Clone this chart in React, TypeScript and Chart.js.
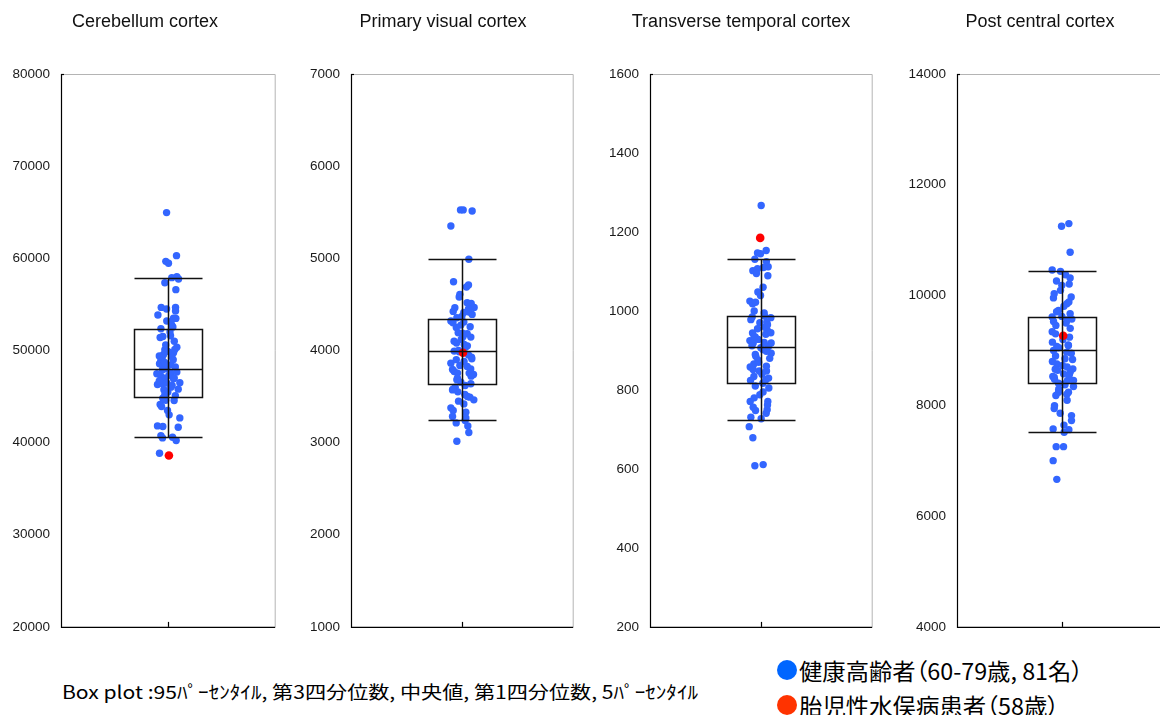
import React, { useEffect, useRef } from "react";
import { Chart, registerables } from "chart.js";

Chart.register(...registerables);

// ---- data -------------------------------------------------------------
const titles = [
  "Cerebellum cortex",
  "Primary visual cortex",
  "Transverse temporal cortex",
  "Post central cortex",
];

const yMin = [20000, 1000, 200, 4000];
const yMax = [80000, 7000, 1600, 14000];
const yStep = [10000, 1000, 200, 2000];

// box plot statistics: 5th pct, Q1, median, Q3, 95th pct
const p5 = [40650, 3250, 725, 7520];
const q1 = [44900, 3641, 818, 8420];
const median = [48000, 3993, 908, 9012];
const q3 = [52300, 4337, 987, 9604];
const p95 = [57900, 4989, 1132, 10431];

// healthy elderly (81) — value and horizontal jitter
const cerebellumValues = [
  64960, 60290, 59670, 59460, 57900, 58000, 57750, 57350, 56600, 54670,
  54490, 54670, 54280, 53840, 53510, 53480, 53080, 52750, 52360, 52540,
  51600, 51520, 51410, 50360, 50110, 49750, 50070, 49570, 49200, 48910,
  48550, 48370, 49350, 48440, 48010, 47570, 47650, 47470, 47210, 46990,
  46920, 46490, 46300, 46380, 46450, 46020, 45800, 45730, 45220, 44820,
  44570, 44130, 43910, 43480, 43010, 42680, 41810, 41740, 41670, 40760,
  40510, 40580, 40220, 38840, 53200, 52000, 51000, 50600, 49900, 49400,
  49000, 48700, 48200, 47900, 47300, 47000, 46700, 46200, 45500, 45100,
  44600,
];
const cerebellumJitter = [
  -0.012, 0.081, -0.019, 0.006, 0.037, 0.084, 0.1, -0.028, 0.075, -0.062,
  -0.012, 0.072, 0.072, -0.093, 0.053, 0.075, 0.028, 0.037, -0.065, 0.047,
  0.025, -0.047, -0.072, 0.084, 0.065, 0.053, -0.028, -0.04, -0.053, -0.065,
  -0.078, -0.047, 0.037, 0.028, -0.012, 0.028, 0.084, -0.103, -0.065, -0.028,
  0.053, 0.112, -0.097, -0.05, -0.009, 0.028, 0.097, -0.037, -0.028, -0.047,
  0.059, -0.072, -0.059, -0.003, 0.012, 0.112, -0.097, -0.047, 0.097, -0.065,
  -0.05, 0.044, 0.078, -0.078, -0.01, 0.02, 0.06, -0.02, 0.0, -0.08,
  0.05, -0.03, 0.07, -0.05, 0.01, 0.06, -0.08, 0.04, 0.0, 0.07,
  -0.02,
];

const visualValues = [
  5525, 5525, 5514, 5351, 4989, 4746, 4688, 4710, 4609, 4580,
  4518, 4511, 4467, 4464, 4424, 4413, 4417, 4391, 4355, 4319,
  4308, 4275, 4257, 4192, 4188, 4181, 4145, 4120, 4080, 4065,
  4036, 3993, 3985, 3928, 3862, 3837, 3826, 3793, 3772, 3754,
  3754, 3739, 3721, 3681, 3656, 3638, 3601, 3572, 3551, 3522,
  3493, 3464, 3420, 3377, 3348, 3330, 3283, 3268, 3214, 3181,
  3109, 3015, 4250, 4150, 4100, 4050, 4000, 3950, 3900, 3880,
  3800, 3700, 3620, 3580, 3500, 4370, 4450, 4300, 3450, 3240,
  3910,
];
const visualJitter = [
  -0.012, 0.012, 0.093, -0.099, 0.063, -0.075, 0.042, 0.06, -0.018, -0.024,
  0.048, 0.084, 0.111, -0.063, -0.078, 0.018, 0.066, 0.093, -0.045, -0.099,
  0.018, -0.009, 0.075, -0.033, 0.006, 0.048, 0.081, -0.006, -0.048, 0.021,
  0.033, -0.069, -0.024, 0.087, -0.099, -0.018, 0.048, -0.084, -0.069, -0.039,
  0.066, 0.105, 0.084, -0.045, -0.009, 0.081, -0.06, -0.084, -0.036, 0.027,
  0.072, 0.108, 0.018, -0.099, -0.078, 0.036, -0.084, 0.036, -0.051, 0.054,
  0.063, -0.045, -0.05, 0.01, -0.07, 0.05, -0.03, 0.06, -0.05, 0.02,
  0.08, -0.04, 0.03, -0.08, 0.05, 0.0, 0.06, -0.08, -0.03, 0.03,
  0.09,
];

const temporalValues = [
  1267, 1153, 1147, 1145, 1131, 1102, 1107, 1112, 1110, 1089,
  1048, 1039, 1025, 1018, 1022, 985, 987, 983, 970, 972,
  959, 951, 944, 941, 934, 928, 925, 919, 919, 910,
  907, 902, 893, 885, 876, 866, 858, 848, 848, 834,
  824, 826, 817, 788, 805, 771, 771, 756, 748, 750,
  741, 731, 727, 707, 679, 608, 611, 1125, 1095, 1060,
  1000, 995, 978, 965, 955, 945, 935, 920, 912, 898,
  890, 880, 870, 860, 852, 840, 830, 810, 795, 780,
  762,
];
const temporalJitter = [
  0.003, 0.048, -0.03, -0.003, -0.054, -0.072, -0.03, 0.066, 0.024, 0.063,
  -0.027, -0.003, -0.099, -0.075, -0.048, -0.078, 0.033, 0.09, -0.009, 0.054,
  0.039, 0.057, -0.075, 0.045, -0.051, -0.024, -0.099, -0.069, 0.093, 0.069,
  0.0, 0.021, 0.093, -0.045, -0.027, -0.063, -0.096, -0.015, 0.051, -0.063,
  -0.093, 0.045, 0.018, -0.009, 0.072, -0.096, 0.063, -0.069, -0.048, 0.057,
  0.048, -0.09, 0.003, -0.105, -0.072, -0.054, 0.021, 0.05, -0.04, 0.02,
  -0.06, 0.03, -0.09, 0.06, -0.03, 0.09, -0.06, 0.03, -0.08, 0.05,
  -0.05, 0.08, -0.02, 0.05, -0.07, 0.01, 0.07, -0.05, 0.02, -0.06,
  0.06,
];

const postcentralValues = [
  11246, 11294, 10775, 10455, 10431, 10370, 10310, 10256, 10177, 9966,
  10087, 10026, 9845, 9875, 9724, 9664, 9604, 9616, 9567, 9525,
  9453, 9495, 9338, 9241, 9072, 9090, 8999, 8969, 8837, 8758,
  8728, 8661, 8667, 8607, 8577, 8517, 8529, 8456, 8456, 8408,
  8396, 8348, 8245, 8184, 8208, 8245, 7949, 7864, 7822, 7731,
  7580, 7520, 7568, 7260, 7260, 7007, 6669, 10200, 9950, 9800,
  9700, 9550, 9400, 9300, 9200, 9150, 9100, 9050, 8950, 8900,
  8850, 8800, 8700, 8640, 8550, 8480, 8380, 8300, 8100, 8000,
  7650,
];
const postcentralJitter = [
  -0.003, 0.067, 0.079, -0.092, -0.013, 0.035, 0.079, -0.051, 0.0, 0.089,
  -0.013, -0.073, 0.048, 0.067, -0.032, 0.079, -0.092, 0.0, 0.095, -0.079,
  -0.057, 0.041, -0.092, 0.073, -0.048, 0.063, -0.079, 0.048, 0.102, -0.048,
  0.006, -0.063, 0.105, 0.079, 0.016, -0.073, -0.086, 0.054, 0.111, -0.032,
  0.022, 0.111, -0.032, -0.057, 0.048, 0.063, -0.073, -0.016, 0.092, 0.092,
  -0.083, 0.022, 0.067, -0.054, 0.016, -0.083, -0.048, 0.07, -0.08, 0.02,
  -0.05, 0.05, 0.08, -0.06, 0.01, -0.09, 0.06, -0.03, 0.09, -0.06,
  0.03, -0.09, 0.05, -0.04, 0.07, -0.07, 0.03, -0.03, 0.05, -0.07,
  0.02,
];

const healthyValues = [cerebellumValues, visualValues, temporalValues, postcentralValues];
const healthyJitter = [cerebellumJitter, visualJitter, temporalJitter, postcentralJitter];

// hydrocephalus patient (58 years)
const patientValues = [38600, 3975, 1185, 9265];
const patientJitter = [0.01, 0.01, -0.006, 0.013];

// ---- layout -----------------------------------------------------------
const PLOT_LEFT = [61, 351, 650, 957];
const PLOT_RIGHT = [275, 573, 872, 1167];
const TITLE_CENTER = [145, 443, 741, 1040];
const PLOT_TOP = 74;
const AXIS_W = 60;
// the value axis reserves ~20px below the plot for its lowest label
const CANVAS_H = 646;
const BOTTOM_PAD = 0;
const RIGHT_PAD = 4;
const BOX_HALF = 34;

const FONT = '"Liberation Sans", Arial, Helvetica, sans-serif';
const CJK = '"Noto Sans CJK JP", "Noto Sans", sans-serif';

const framePlugin = {
  id: "frame",
  beforeDatasetsDraw(chart: any) {
    const { ctx, chartArea: a } = chart;
    ctx.save();
    ctx.lineWidth = 1;
    ctx.strokeStyle = "#b4b4b4";
    ctx.beginPath();
    ctx.moveTo(a.left, a.top + 0.5);
    ctx.lineTo(a.right + 0.5, a.top + 0.5);
    ctx.lineTo(a.right + 0.5, a.bottom);
    ctx.stroke();
    ctx.strokeStyle = "#000";
    ctx.lineWidth = 1.2;
    ctx.beginPath();
    ctx.moveTo(a.left + 0.5, a.top);
    ctx.lineTo(a.left + 0.5, a.bottom + 0.5);
    ctx.lineTo(a.right + 0.5, a.bottom + 0.5);
    ctx.stroke();
    // short inward tick at the top of the value axis
    ctx.beginPath();
    ctx.moveTo(a.left, a.top + 0.5);
    ctx.lineTo(a.left + 3, a.top + 0.5);
    ctx.stroke();
    // category tick on the bottom axis
    const cx = Math.round(chart.scales.x.getPixelForValue(0)) + 0.5;
    ctx.beginPath();
    ctx.moveTo(cx, a.bottom);
    ctx.lineTo(cx, a.bottom - 5);
    ctx.stroke();
    ctx.restore();
  },
};

const boxPlugin = {
  id: "boxplot",
  afterDatasetsDraw(chart: any, _args: any, opts: any) {
    const i = opts.index;
    const { ctx } = chart;
    const y = chart.scales.y;
    const cx = Math.round(chart.scales.x.getPixelForValue(0)) + 0.5;
    const yp = (v: number) => Math.round(y.getPixelForValue(v)) + 0.5;
    const l = cx - BOX_HALF;
    const r = cx + BOX_HALF;
    ctx.save();
    ctx.strokeStyle = "#111";
    ctx.lineWidth = 1.5;
    ctx.beginPath();
    ctx.moveTo(cx, yp(p5[i]));
    ctx.lineTo(cx, yp(p95[i]));
    for (const v of [p5[i], median[i], p95[i]]) {
      ctx.moveTo(l, yp(v));
      ctx.lineTo(r, yp(v));
    }
    ctx.rect(l, yp(q3[i]), r - l, yp(q1[i]) - yp(q3[i]));
    ctx.stroke();
    ctx.restore();
  },
};

const titlePlugin = {
  id: "paneltitle",
  afterDraw(chart: any, _args: any, opts: any) {
    const { ctx } = chart;
    ctx.save();
    ctx.fillStyle = "#111";
    ctx.font = `18px ${FONT}`;
    ctx.textAlign = "center";
    ctx.textBaseline = "alphabetic";
    ctx.fillText(opts.text, opts.x, 26.5);
    ctx.restore();
  },
};

function Panel({ index }: { index: number }) {
  const ref = useRef<HTMLCanvasElement>(null);
  const canvasLeft = PLOT_LEFT[index] - AXIS_W;
  const width = PLOT_RIGHT[index] - PLOT_LEFT[index] + AXIS_W + RIGHT_PAD;

  useEffect(() => {
    if (!ref.current) return;
    const vals = healthyValues[index];
    const jit = healthyJitter[index];
    const chart = new Chart(ref.current, {
      type: "scatter",
      data: {
        datasets: [
          {
            label: "胎児性水俣病患者（58歳）",
            data: [{ x: patientJitter[index], y: patientValues[index] }],
            backgroundColor: "#ff0000",
            borderWidth: 0,
            pointRadius: 4.3,
          },
          {
            label: "健康高齢者（60-79歳, 81名）",
            data: vals.map((v, k) => ({ x: jit[k], y: v })),
            backgroundColor: "#3366ff",
            borderWidth: 0,
            pointRadius: 3.7,
          },
        ],
      },
      options: {
        responsive: false,
        maintainAspectRatio: false,
        animation: false,
        layout: { padding: { top: PLOT_TOP, bottom: BOTTOM_PAD, left: 0, right: RIGHT_PAD } },
        plugins: {
          legend: { display: false },
          tooltip: { enabled: false },
          boxplot: { index },
          paneltitle: { text: titles[index], x: TITLE_CENTER[index] - canvasLeft },
        } as any,
        scales: {
          x: { type: "linear", min: -1, max: 1, display: false },
          y: {
            type: "linear",
            min: yMin[index],
            max: yMax[index],
            grid: { display: false, drawTicks: false },
            border: { display: false },
            afterFit: (s: any) => {
              s.width = AXIS_W;
            },
            ticks: {
              stepSize: yStep[index],
              padding: 11,
              color: "#1a1a1a",
              font: { family: FONT, size: 13.5 },
              callback: (v: any) => String(v),
            },
          },
        },
      },
      plugins: [framePlugin, boxPlugin, titlePlugin],
    });
    return () => chart.destroy();
  }, [index]);

  return (
    <canvas
      ref={ref}
      width={width}
      height={CANVAS_H}
      style={{ position: "absolute", left: canvasLeft, top: 0, width, height: CANVAS_H }}
    />
  );
}

function FitText({ text, width, style }: { text: string; width: number; style: React.CSSProperties }) {
  const ref = useRef<HTMLSpanElement>(null);
  useEffect(() => {
    const el = ref.current;
    if (!el) return;
    el.style.transform = "none";
    const w = el.getBoundingClientRect().width;
    if (w > 0) el.style.transform = `scaleX(${width / w})`;
  }, [text, width]);
  return (
    <span
      ref={ref}
      style={{ position: "absolute", whiteSpace: "nowrap", transformOrigin: "left center", ...style }}
    >
      {text}
    </span>
  );
}

export default function App() {
  return (
    <div
      style={{
        position: "fixed",
        left: 0,
        top: 0,
        width: 1160,
        height: 715,
        overflow: "hidden",
        background: "#fff",
      }}
    >
      {[0, 1, 2, 3].map((i) => (
        <Panel key={i} index={i} />
      ))}
      <FitText
        text="Box plot :95ﾊﾟｰｾﾝﾀｲﾙ, 第3四分位数, 中央値, 第1四分位数, 5ﾊﾟｰｾﾝﾀｲﾙ"
        width={636}
        style={{ left: 62, top: 679, fontFamily: CJK, fontSize: 18, lineHeight: "24px", color: "#000" }}
      />
      <div
        style={{ position: "absolute", left: 777, top: 660, width: 20, height: 20, borderRadius: "50%", background: "#0066ff" }}
      />
      <div
        style={{ position: "absolute", left: 777, top: 695, width: 20, height: 20, borderRadius: "50%", background: "#ff3300" }}
      />
      <FitText
        text="健康高齢者（60-79歳, 81名）"
        width={284}
        style={{ left: 799, top: 655, fontFamily: CJK, fontSize: 23, lineHeight: "30px", color: "#000", fontFeatureSettings: '"palt"' }}
      />
      <FitText
        text="胎児性水俣病患者（58歳）"
        width={260}
        style={{ left: 799, top: 690, fontFamily: CJK, fontSize: 23, lineHeight: "30px", color: "#000", fontFeatureSettings: '"palt"' }}
      />
    </div>
  );
}
